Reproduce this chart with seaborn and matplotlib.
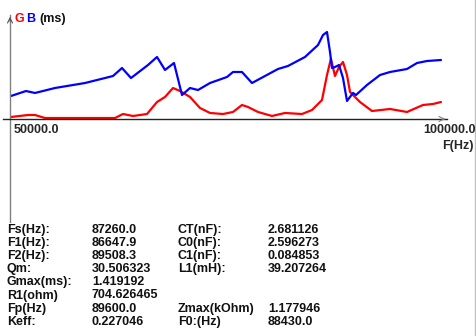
import matplotlib
matplotlib.use("Agg")
import matplotlib.pyplot as plt
import seaborn as sns
import pandas as pd
from matplotlib.lines import Line2D

# ---- data ----
g_freq = [50000, 51977, 52791, 53953, 62093, 63023, 64186, 65814, 66977, 67907,
          68837, 69651, 70814, 71977, 73140, 74651, 75814, 76860, 77558, 78721,
          80349, 81860, 83837, 85000, 86163, 86744, 87200, 87674, 88140, 88605,
          89070, 89419, 90581, 91977, 94070, 96047, 97907, 99070, 100000]
g_vals = [0.047, 0.093, 0.093, 0.023, 0.023, 0.116, 0.070, 0.116, 0.395, 0.512,
          0.721, 0.651, 0.512, 0.256, 0.140, 0.116, 0.163, 0.326, 0.279, 0.163,
          0.070, 0.140, 0.116, 0.209, 0.442, 1.023, 1.40, 1.000, 1.209, 1.326,
          1.023, 0.628, 0.395, 0.186, 0.233, 0.163, 0.326, 0.349, 0.395]

b_freq = [50000, 51744, 52791, 55116, 58605, 60930, 61860, 62907, 63953, 65930,
          66977, 67907, 68953, 69884, 70814, 71744, 73140, 75116, 75814, 76860,
          78023, 81047, 82209, 84186, 85698, 86279, 86744, 87093, 87326, 87674,
          88140, 88605, 89070, 89767, 90116, 91395, 92907, 94070, 96047, 97209,
          98372, 100000]
b_vals = [0.535, 0.651, 0.605, 0.721, 0.837, 0.953, 1.000, 1.186, 0.953, 1.256,
          1.442, 1.140, 1.302, 0.558, 0.721, 0.674, 0.837, 0.977, 1.093, 1.093,
          0.837, 1.163, 1.233, 1.442, 1.721, 1.953, 2.023, 1.558, 1.186, 1.209,
          1.256, 0.953, 0.419, 0.605, 0.558, 0.791, 1.023, 1.093, 1.163, 1.302,
          1.349, 1.372]

x_ticks = [50000, 60000, 70000, 80000, 90000, 100000]
x_tick_labels = ["50000.0", "100000.0"]
y_ticks = [-2.0, 2.0]

table_rows = [
    ("Fs(Hz):", "87260.0", "CT(nF):", "2.681126"),
    ("F1(Hz):", "86647.9", "C0(nF):", "2.596273"),
    ("F2(Hz):", "89508.3", "C1(nF):", "0.084853"),
    ("Qm:", "30.506323", "L1(mH):", "39.207264"),
    ("Gmax(ms):", "1.419192", "", ""),
    ("R1(ohm)", "704.626465", "", ""),
    ("Fp(Hz)", "89600.0", "Zmax(kOhm)", "1.177946"),
    ("Keff:", "0.227046", "F0:(Hz)", "88430.0"),
]

df = pd.concat([
    pd.DataFrame({"F": g_freq, "v": g_vals, "s": "G"}),
    pd.DataFrame({"F": b_freq, "v": b_vals, "s": "B"}),
])

# ---- figure ----
W, H = 477, 336
sns.set_style("white")
plt.rcParams["font.family"] = ["Liberation Sans", "DejaVu Sans"]
fig = plt.figure(figsize=(W / 100, H / 100), dpi=100)
ax = fig.add_axes([0, 0, 1, 1])

# pixel <-> data mapping
HZ_PER_PX = 10000 / 86.0
MS_PER_PX = 1 / 43.0
def fx(px):
    return 50000 + (px - 11) * HZ_PER_PX
def fy(py):
    return (119 - py) * MS_PER_PX

ax.set_xlim(fx(0), fx(W))
ax.set_ylim(fy(H), fy(0))

sns.lineplot(data=df, x="F", y="v", hue="s", palette={"G": "#ff0000", "B": "#0000ff"},
             sort=False, estimator=None, linewidth=1.6, legend=False, ax=ax)

ax.set_xlabel("")
ax.set_ylabel("")
for s in ["top", "right"]:
    ax.spines[s].set_visible(False)
ax.spines["bottom"].set_position(("data", 0))
ax.spines["bottom"].set_bounds(fx(3), fx(447))
ax.spines["bottom"].set_color("#222222")
ax.spines["bottom"].set_linewidth(1.0)
ax.spines["left"].set_position(("data", fx(10)))
ax.spines["left"].set_bounds(fy(222), fy(15))
ax.spines["left"].set_color("#808080")
ax.spines["left"].set_linewidth(1.0)

ax.set_xticks(x_ticks)
ax.set_xticklabels([])
ax.set_yticks(y_ticks)
ax.set_yticklabels([])
ax.tick_params(axis="both", direction="in", length=2.5, width=1.0, colors="#222222")

# arrow heads
ax.annotate("", xy=(fx(448), 0), xytext=(fx(440), 0),
            arrowprops=dict(arrowstyle="->", color="#808080", lw=0.8, mutation_scale=9))
ax.annotate("", xy=(fx(10), fy(14)), xytext=(fx(10), fy(24)),
            arrowprops=dict(arrowstyle="->", color="#555555", lw=0.8, mutation_scale=9))

def px(x, y):
    return x / W, 1 - y / H

fs = 9
# tick labels
fig.text(*px(14, 130), x_tick_labels[0], ha="left", va="center", fontsize=fs, fontweight="bold")
fig.text(*px(476, 130), x_tick_labels[1], ha="right", va="center", fontsize=fs, fontweight="bold")
fig.text(*px(474, 146), "F(Hz)", ha="right", va="center", fontsize=fs, fontweight="bold")

# header
fig.text(*px(15, 19), "G", ha="left", va="center", fontsize=fs, fontweight="bold", color="#ff0000")
fig.text(*px(26, 19), "B", ha="left", va="center", fontsize=fs, fontweight="bold", color="#0000ff")
fig.text(*px(39, 19), "(ms)", ha="left", va="center", fontsize=fs, fontweight="bold", color="#111111")

# parameter table
col_x = [7, 92, 178, 268]
for i, row in enumerate(table_rows):
    y = 230 + i * 13.1
    for cx, t in zip(col_x, row):
        if t:
            fig.text(*px(cx, y), t, ha="left", va="center", fontsize=fs,
                     fontweight="bold", color="#111111")

# right window border
fig.add_artist(Line2D([475.5 / W, 475.5 / W], [0, 1], color="#c0c0c0", lw=1.0))

fig.savefig("out.png", dpi=100)
